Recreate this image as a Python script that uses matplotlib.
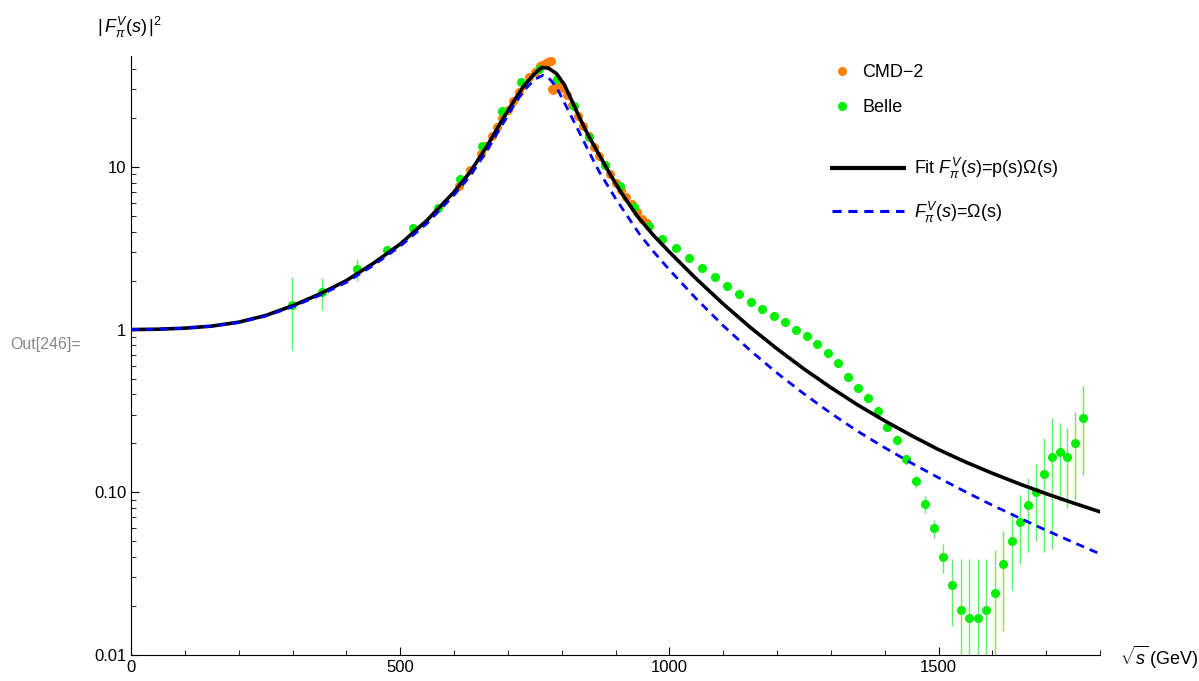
import numpy as np
import matplotlib
matplotlib.use("Agg")
import matplotlib.pyplot as plt
from matplotlib.lines import Line2D
from matplotlib.ticker import FixedLocator, NullFormatter

plt.rcParams['font.family'] = ['Liberation Sans', 'DejaVu Sans']
plt.rcParams['mathtext.fontset'] = 'custom'
plt.rcParams['mathtext.rm'] = 'Liberation Sans'
plt.rcParams['mathtext.it'] = 'Liberation Sans:italic'

# fit curve |F|^2 = |p(s) Omega(s)|^2
fit_x = [0, 50, 100, 150, 200, 250, 300, 350, 400, 450, 500, 550, 600, 630, 660, 690, 710,
         730, 750, 763, 775, 790, 805, 820, 835, 850, 870, 890, 910, 940, 970, 1000, 1050,
         1100, 1150, 1200, 1250, 1300, 1350, 1400, 1450, 1500, 1550, 1600, 1650, 1700,
         1750, 1800]
fit_y = [1.00, 1.005, 1.02, 1.05, 1.11, 1.22, 1.40, 1.65, 2.0, 2.55, 3.35, 4.7, 7.0, 9.3,
         13.2, 19.5, 25.0, 31.5, 37.5, 40.8, 40.5, 37.5, 32.0, 25.0, 19.5, 15.5, 11.8, 9.0,
         7.0, 5.0, 3.81, 3.0, 2.052, 1.438, 1.034, 0.762, 0.573, 0.440, 0.344, 0.275, 0.223,
         0.183, 0.1536, 0.1309, 0.1127, 0.098, 0.086, 0.0759]

# Omnes-only curve
omn_x = [0, 50, 100, 150, 200, 250, 300, 350, 400, 450, 500, 550, 600, 630, 660, 690, 710,
         730, 750, 765, 775, 790, 810, 830, 850, 870, 900, 920, 945, 970, 1000, 1050, 1100,
         1150, 1200, 1250, 1300, 1350, 1400, 1450, 1500, 1550, 1600, 1650, 1700, 1750, 1800]
omn_y = [1.00, 1.005, 1.02, 1.05, 1.105, 1.21, 1.38, 1.62, 1.95, 2.48, 3.25, 4.5, 6.7, 8.8,
         12.4, 18.2, 23.5, 29.5, 34.5, 36.5, 35.5, 31.0, 23.0, 17.0, 12.5, 9.3, 6.4, 5.1,
         3.84, 3.03, 2.33, 1.546, 1.057, 0.745, 0.541, 0.403, 0.306, 0.237, 0.188, 0.151,
         0.123, 0.1007, 0.0833, 0.0696, 0.0584, 0.0493, 0.0418]

# CMD-2 points
cmd_x = [610, 630, 650, 660, 670, 680, 690, 700, 710, 720, 730, 740, 750, 760, 764, 770, 774,
         778, 781, 782, 784, 786, 790, 794, 800, 810, 820, 830, 840, 850, 860, 870, 880,
         890, 900, 910, 920, 930, 940, 950, 958]
cmd_y = [7.6, 9.6, 12.0, 13.5, 15.5, 17.5, 20.0, 22.5, 25.5, 28.8, 32.0, 35.5, 38.5, 41.5, 42.5,
         43.5, 44.0, 45.0, 44.5, 30.0, 29.5, 30.5, 33.5, 33.0, 30.5, 27.5, 24.0, 20.5, 17.8,
         15.5, 13.3, 11.6, 10.3, 9.0, 8.0, 7.2, 6.5, 5.9, 5.3, 4.8, 4.5]

# Belle points
belle_x = [299, 355, 420, 475, 524, 570, 612, 652, 689, 725, 758, 791, 822, 851, 880, 908,
           935, 962, 987, 1012, 1037, 1061, 1084, 1107, 1129, 1151, 1173, 1194, 1214, 1235,
           1255, 1275, 1294, 1313, 1332, 1351, 1369, 1387, 1405, 1423, 1440, 1458, 1475,
           1492, 1508, 1525, 1541, 1557, 1573, 1589, 1605, 1620, 1636, 1651, 1666, 1681,
           1696, 1710, 1725, 1739, 1754, 1768]
belle_y = [1.42, 1.69, 2.34, 3.10, 4.20, 5.60, 8.40, 13.4, 21.9, 33.0, 39.8, 34.5, 23.5, 15.2,
           10.3, 7.6, 5.7, 4.3, 3.6, 3.15, 2.75, 2.40, 2.10, 1.85, 1.65, 1.48, 1.34, 1.22,
           1.11, 1.00, 0.91, 0.82, 0.72, 0.62, 0.51, 0.44, 0.38, 0.317, 0.253, 0.21, 0.16,
           0.117, 0.085, 0.060, 0.040, 0.027, 0.019, 0.017, 0.017, 0.019, 0.024, 0.036,
           0.050, 0.066, 0.083, 0.100, 0.130, 0.165, 0.178, 0.165, 0.200, 0.287]
belle_err = [0.67, 0.37, 0.36, 0.15, 0.15, 0.2, 0.25, 0.3, 0.4, 0.5, 0.6, 0.5, 0.4, 0.3, 0.2,
             0.15, 0.12, 0.1, 0.08, 0.07, 0.06, 0.06, 0.05, 0.05, 0.04, 0.04, 0.04, 0.035,
             0.035, 0.03, 0.03, 0.03, 0.03, 0.025, 0.025, 0.02, 0.02, 0.02, 0.015, 0.015,
             0.012, 0.01, 0.01, 0.008, 0.008, 0.012, 0.02, 0.022, 0.022, 0.02, 0.02, 0.022,
             0.025, 0.03, 0.04, 0.05, 0.087, 0.12, 0.09, 0.085, 0.11, 0.16]

orange = '#ff8000'
green = '#00ee00'

fig = plt.figure(figsize=(11.99, 6.81), dpi=100)
ax = fig.add_axes([131 / 1199, 1 - 655 / 681, 969 / 1199, 599 / 681])

by = np.array(belle_y)
be = np.array(belle_err)
lower = np.minimum(be, by * 0.999)
ax.errorbar(belle_x, belle_y, yerr=[lower, be], fmt='none', ecolor='#66ee66', elinewidth=1, zorder=2)
ax.plot(cmd_x, cmd_y, 'o', color=orange, ms=6.5, mec='none', zorder=3)
ax.plot(belle_x, belle_y, 'o', color=green, ms=6.5, mec='none', zorder=3)

ax.plot(fit_x, fit_y, '-', color='black', lw=2.6, zorder=4)
ax.plot(omn_x, omn_y, '--', color='#0000ff', lw=2.0, dashes=(3, 2.2), zorder=5)

ax.set_yscale('log')
ax.set_xlim(0, 1800)
ax.set_ylim(0.01, 48)

ax.spines['top'].set_visible(False)
ax.spines['right'].set_visible(False)
for sp in ('left', 'bottom'):
    ax.spines[sp].set_linewidth(0.8)

ax.xaxis.set_major_locator(FixedLocator([0, 500, 1000, 1500]))
ax.xaxis.set_minor_locator(FixedLocator([x for x in range(0, 1801, 100) if x % 500]))
ax.yaxis.set_major_locator(FixedLocator([0.01, 0.1, 1, 10]))
ax.set_yticklabels(['0.01', '0.10', '1', '10'])
ax.yaxis.set_minor_formatter(NullFormatter())
ax.tick_params(which='both', direction='in', labelsize=12, colors='black')
ax.tick_params(which='major', length=6, width=0.8)
ax.tick_params(which='minor', length=3.5, width=0.6)

fig.text(97 / 1199, 1 - 27 / 681, r'$|\,F_\pi^V(s)\,|^2$', fontsize=13, va='center', ha='left')
fig.text(1120 / 1199, 1 - 657 / 681, r'$\sqrt{s}\,$(GeV)', fontsize=13, va='center', ha='left')
fig.text(10 / 1199, 1 - 344 / 681, 'Out[246]=', fontsize=11.5, color='#888888', va='center', ha='left')

pts = [Line2D([], [], ls='none', marker='o', color=orange, ms=6.5, mec='none'),
       Line2D([], [], ls='none', marker='o', color=green, ms=6.5, mec='none')]
fig.legend(pts, ['CMD\u22122', 'Belle'], loc='upper left',
           bbox_to_anchor=(817 / 1199, 1 - 48 / 681), frameon=False, fontsize=13,
           handlelength=1.0, handletextpad=0.6, labelspacing=1.0)
lines = [Line2D([], [], color='black', lw=3),
         Line2D([], [], color='#0000ff', lw=2.2, ls='--', dashes=(3, 2.2))]
fig.legend(lines, [r'Fit $F_\pi^V(s)$=p(s)$\Omega$(s)', r'$F_\pi^V(s)$=$\Omega$(s)'],
           loc='upper left', bbox_to_anchor=(816 / 1199, 1 - 140 / 681), frameon=False,
           fontsize=13, handlelength=4.0, handletextpad=0.5, labelspacing=1.0)

fig.savefig('out.png', dpi=100)
